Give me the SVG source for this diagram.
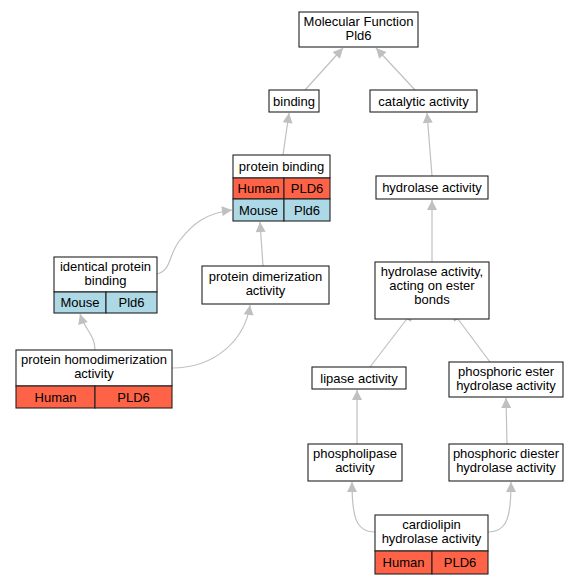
<svg xmlns="http://www.w3.org/2000/svg" width="580" height="584" viewBox="0 0 580 584">
<defs>
<marker id="ah" viewBox="0 0 10 10" refX="10" refY="5" markerWidth="11" markerHeight="10" markerUnits="userSpaceOnUse" orient="auto">
<path d="M0,0 L10,5 L0,10 z" fill="#c0c0c0"/>
</marker>
</defs>
<style>
text{font-family:"Liberation Sans",Arial,sans-serif;font-size:13px;text-anchor:middle;fill:#000}
.b{fill:#fff;stroke:#222;stroke-width:1.1}
.h{fill:#ff6347;stroke:#222;stroke-width:1.1}
.m{fill:#add8e6;stroke:#222;stroke-width:1.1}
.e{fill:none;stroke:#c0c0c0;stroke-width:1.2;marker-end:url(#ah)}
</style>
<rect width="580" height="584" fill="#fff"/>
<g id="edges">
<path class="e" d="M305,90 L343,48"/>
<path class="e" d="M415,90 L376,48"/>
<path class="e" d="M283,155 L289,113"/>
<path class="e" d="M432,176 L427,113"/>
<path class="e" d="M432,262 L432,200"/>
<path class="e" d="M263,266 L260,222"/>
<path class="e" d="M157,274 C172,270 168,255 180,240 C192,225 205,213 232,210"/>
<path class="e" d="M95,350 C95,335 85,330 80,314"/>
<path class="e" d="M172,368 C215,368 245,340 250,305"/>
<path class="e" d="M370,367 L413,311"/>
<path class="e" d="M490,362 L452,311"/>
<path class="e" d="M357,444 L357,390"/>
<path class="e" d="M507,444 L506,398"/>
<path class="e" d="M375,532 C355,532 352,515 352,482"/>
<path class="e" d="M488,532 C508,532 511,515 511,482"/>
</g>
<g id="mf">
<rect class="b" x="299" y="12" width="119" height="35"/>
<text x="358.5" y="26">Molecular Function</text>
<text x="358.5" y="40">Pld6</text>
</g>
<g id="binding">
<rect class="b" x="269" y="90" width="50" height="22"/>
<text x="294" y="105.5">binding</text>
</g>
<g id="catalytic">
<rect class="b" x="370" y="90" width="107" height="22"/>
<text x="423.5" y="105.5">catalytic activity</text>
</g>
<g id="proteinbinding">
<rect class="b" x="233" y="155" width="97" height="23"/>
<text x="281.5" y="170.5">protein binding</text>
<rect class="h" x="233" y="178" width="51" height="21"/>
<rect class="h" x="284" y="178" width="46" height="21"/>
<text x="258.5" y="193">Human</text>
<text x="307" y="193">PLD6</text>
<rect class="m" x="233" y="199" width="51" height="22"/>
<rect class="m" x="284" y="199" width="46" height="22"/>
<text x="258.5" y="214.5">Mouse</text>
<text x="307" y="214.5">Pld6</text>
</g>
<g id="hydrolase">
<rect class="b" x="376" y="176" width="112" height="23"/>
<text x="432" y="191.5">hydrolase activity</text>
</g>
<g id="identical">
<rect class="b" x="54" y="257" width="103" height="35"/>
<text x="105.5" y="271">identical protein</text>
<text x="105.5" y="285">binding</text>
<rect class="m" x="54" y="292" width="52" height="21"/>
<rect class="m" x="106" y="292" width="51" height="21"/>
<text x="80" y="307">Mouse</text>
<text x="131.5" y="307">Pld6</text>
</g>
<g id="dimerization">
<rect class="b" x="202" y="266" width="127" height="38"/>
<text x="265.5" y="281">protein dimerization</text>
<text x="265.5" y="295">activity</text>
</g>
<g id="ester">
<rect class="b" x="375" y="262" width="114" height="57"/>
<text x="432" y="276">hydrolase activity,</text>
<text x="432" y="290">acting on ester</text>
<text x="432" y="304">bonds</text>
</g>
<g id="homodimerization">
<rect class="b" x="16" y="350" width="156" height="36"/>
<text x="94" y="364">protein homodimerization</text>
<text x="94" y="378">activity</text>
<rect class="h" x="16" y="386" width="79" height="22"/>
<rect class="h" x="95" y="386" width="77" height="22"/>
<text x="55.5" y="401.5">Human</text>
<text x="133.5" y="401.5">PLD6</text>
</g>
<g id="lipase">
<rect class="b" x="312" y="367" width="94" height="22"/>
<text x="359" y="382.5">lipase activity</text>
</g>
<g id="phosester">
<rect class="b" x="449" y="362" width="114" height="35"/>
<text x="506" y="376">phosphoric ester</text>
<text x="506" y="390">hydrolase activity</text>
</g>
<g id="phospholipase">
<rect class="b" x="308" y="444" width="94" height="37"/>
<text x="355" y="458">phospholipase</text>
<text x="355" y="472">activity</text>
</g>
<g id="phosdiester">
<rect class="b" x="449" y="444" width="114" height="37"/>
<text x="506" y="458">phosphoric diester</text>
<text x="506" y="472">hydrolase activity</text>
</g>
<g id="cardiolipin">
<rect class="b" x="375" y="515" width="113" height="36"/>
<text x="431.5" y="529">cardiolipin</text>
<text x="431.5" y="543">hydrolase activity</text>
<rect class="h" x="375" y="551" width="57" height="23"/>
<rect class="h" x="432" y="551" width="56" height="23"/>
<text x="403.5" y="567">Human</text>
<text x="460" y="567">PLD6</text>
</g>
</svg>
